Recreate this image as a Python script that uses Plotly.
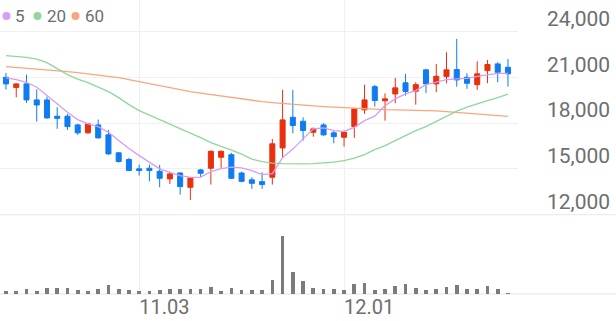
import plotly.graph_objects as go

# ---- data ----
day_index = list(range(50))
tick_positions = [13, 33]
tick_labels = ["11.03", "12.01"]

opens = [21000, 20330, 20570, 19520, 19520, 18450, 18450, 17880, 17360, 17880,
         17230, 16050, 15610, 15000, 15040, 14840, 14340, 14730, 13790, 14930,
         15040, 15760, 15930, 14730, 14280, 14160, 14450, 16370, 18380, 18120,
         17400, 17880, 17360, 17070, 17770, 18870, 20390, 19460, 19910, 20640,
         20090, 21490, 20570, 21050, 21510, 21000, 20520, 21440, 21880, 21660]
highs = [21290, 20600, 21180, 20200, 19740, 19040, 18600, 17950, 17980, 18230,
         17550, 16100, 15720, 15280, 15280, 15260, 14820, 14770, 14430, 15000,
         16200, 16200, 16050, 14820, 14450, 14770, 16960, 20180, 20180, 18380,
         17720, 18000, 17550, 17500, 18950, 20520, 20500, 19950, 20960, 21230,
         20680, 21550, 21880, 22640, 23520, 21270, 22050, 22140, 21990, 22210]
lows = [20200, 19690, 19320, 18100, 18280, 17620, 17550, 17230, 17290, 17000,
        15930, 15410, 14890, 14560, 14180, 13790, 14010, 13310, 12960, 14450,
        13970, 15060, 14350, 14120, 13690, 13690, 13970, 15720, 17330, 16850,
        17110, 17160, 16680, 16460, 17030, 18600, 19080, 18160, 19300, 19800,
        19210, 19980, 20020, 20610, 20390, 20240, 20180, 20610, 20680, 20390]
closes = [20570, 20570, 19520, 19190, 18340, 18310, 17770, 17360, 17950, 17030,
          15980, 15480, 14890, 14890, 14890, 14380, 14670, 13840, 14410, 14710,
          16150, 16150, 14380, 14180, 14050, 13970, 16640, 18210, 17840, 17510,
          17620, 17230, 17110, 17400, 18930, 19520, 19480, 19590, 20310, 20070,
          20520, 20570, 21070, 21490, 20830, 20610, 21230, 21840, 21330, 21230]

ma5 = [20963, 20852, 20675, 20347, 19803, 19259, 18708, 18229, 17947, 17770,
       17397, 16852, 16328, 15869, 15429, 14997, 14774, 14557, 14446, 14459,
       14820, 15016, 15115, 15062, 14885, 14623, 14688, 15737, 16295, 16951,
       17619, 17685, 17508, 17462, 17724, 18164, 18459, 19147, 19587, 19914,
       20131, 20524, 20675, 20852, 20898, 20937, 21068, 21180, 21265, 21265]
ma20 = [22426, 22393, 22314, 22196, 21967, 21573, 21180, 20885, 20655, 20360,
        20065, 19672, 19213, 18819, 18524, 18262, 17967, 17672, 17377, 17049,
        16721, 16492, 16229, 15967, 15639, 15475, 15377, 15344, 15324, 15324,
        15344, 15377, 15442, 15541, 15705, 15934, 16262, 16524, 16852, 17213,
        17508, 17770, 18098, 18459, 18787, 19049, 19278, 19475, 19672, 19901]
ma60 = [21704, 21652, 21606, 21573, 21520, 21442, 21376, 21311, 21226, 21147,
        21081, 20983, 20852, 20721, 20590, 20459, 20295, 20164, 20065, 19967,
        19868, 19770, 19672, 19573, 19475, 19409, 19344, 19278, 19245, 19180,
        19127, 19081, 19049, 19016, 18970, 18931, 18885, 18885, 18872, 18865,
        18839, 18819, 18800, 18754, 18708, 18642, 18590, 18537, 18491, 18446]

volumes = [300, 300, 430, 270, 570, 570, 570, 370, 270, 430,
           900, 500, 400, 300, 270, 370, 470, 500, 430, 430,
           670, 300, 570, 400, 330, 400, 1370, 5770, 2130, 1270,
           530, 430, 430, 370, 1000, 1100, 370, 430, 770, 930,
           600, 370, 430, 670, 870, 430, 430, 730, 430, 70]

price_ticks = [12000, 15000, 18000, 21000, 24000]
price_tick_text = ["12,000", "15,000", "18,000", "21,000", "24,000"]

ma_labels = ["5", "20", "60"]

# ---- styles ----
RED = "#e8300d"
BLUE = "#0f7cf0"
MA_COLORS = ["#d69df2", "#8fd79a", "#f9a67e"]
GRID = "#f0f0f0"
TEXT = "#6e6e6e"
FONT = "Roboto"

W, H = 616, 321
ML, MR, MT, MB = 0, 98, 0, 27
plot_w = W - ML - MR
plot_h = H - MT - MB

fig = go.Figure()

fig.add_trace(go.Candlestick(
    x=day_index, open=opens, high=highs, low=lows, close=closes,
    increasing=dict(line=dict(color=RED, width=1), fillcolor=RED),
    decreasing=dict(line=dict(color=BLUE, width=1), fillcolor=BLUE),
    whiskerwidth=0, showlegend=False, xaxis="x", yaxis="y"))

for vals, col in zip([ma60, ma20, ma5], [MA_COLORS[2], MA_COLORS[1], MA_COLORS[0]]):
    fig.add_trace(go.Scatter(x=day_index, y=vals, mode="lines",
                             line=dict(color=col, width=1.3),
                             showlegend=False, xaxis="x", yaxis="y"))

fig.add_trace(go.Bar(x=day_index, y=volumes, marker=dict(color="#7b7b7b", line=dict(width=0)),
                     width=0.36, showlegend=False, xaxis="x2", yaxis="y2"))

xr = [-0.585, 49.98]
fig.update_layout(
    width=W, height=H,
    margin=dict(l=ML, r=MR, t=MT, b=MB, autoexpand=False),
    paper_bgcolor="white", plot_bgcolor="white",
    font=dict(family=FONT, color=TEXT),
    xaxis=dict(domain=[0, 1], range=xr, anchor="y", tickvals=tick_positions,
               showticklabels=False, showgrid=True, gridcolor=GRID, gridwidth=1,
               zeroline=False, rangeslider=dict(visible=False), ticks="",
               automargin=False),
    yaxis=dict(domain=[0.27, 1], range=[11999, 26070], side="right",
               tickvals=price_ticks, ticktext=price_tick_text,
               tickfont=dict(family=FONT, size=21, color=TEXT),
               showgrid=True, gridcolor=GRID, gridwidth=1, zeroline=False,
               ticks="", ticklabelstandoff=28, ticklabelshift=-13, automargin=False),
    xaxis2=dict(domain=[0, 1], range=xr, anchor="y2", tickvals=tick_positions,
                ticktext=tick_labels, ticklabelposition="outside right",
                tickfont=dict(family=FONT, size=20, color=TEXT),
                ticklabelstandoff=-1, automargin=False,
                showgrid=True, gridcolor=GRID, gridwidth=1, zeroline=False, ticks=""),
    yaxis2=dict(domain=[0, 0.268], range=[0, 7880], showticklabels=False,
                showgrid=False, zeroline=False, ticks="", automargin=False),
    bargap=0,
)

# full-width separator lines
ext = W / plot_w
fig.add_shape(type="line", xref="paper", yref="paper", x0=0, x1=ext, y0=0.27, y1=0.27,
              line=dict(color="#ececec", width=1.2), layer="below")
fig.add_shape(type="line", xref="paper", yref="paper", x0=0, x1=ext, y0=0, y1=0,
              line=dict(color="#e3e3e3", width=1.2), layer="below")

# legend: coloured dots + labels
dot_x_px = [6.5, 37.5, 75.5]
text_x_px = [13, 45, 83]
legend_y_px = 16
for lab, col, dx, tx in zip(ma_labels, MA_COLORS, dot_x_px, text_x_px):
    fig.add_shape(type="circle", xref="paper", yref="paper",
                  xsizemode="pixel", ysizemode="pixel",
                  xanchor=dx / plot_w, yanchor=1 - legend_y_px / plot_h,
                  x0=-4, x1=4, y0=-4, y1=4,
                  fillcolor=col, line=dict(width=0))
    fig.add_annotation(xref="paper", yref="paper", x=tx / plot_w,
                       y=1 - legend_y_px / plot_h, xanchor="left", yanchor="middle",
                       showarrow=False, text=lab,
                       font=dict(family=FONT, size=17, color=TEXT))

fig.write_html("out.html")
